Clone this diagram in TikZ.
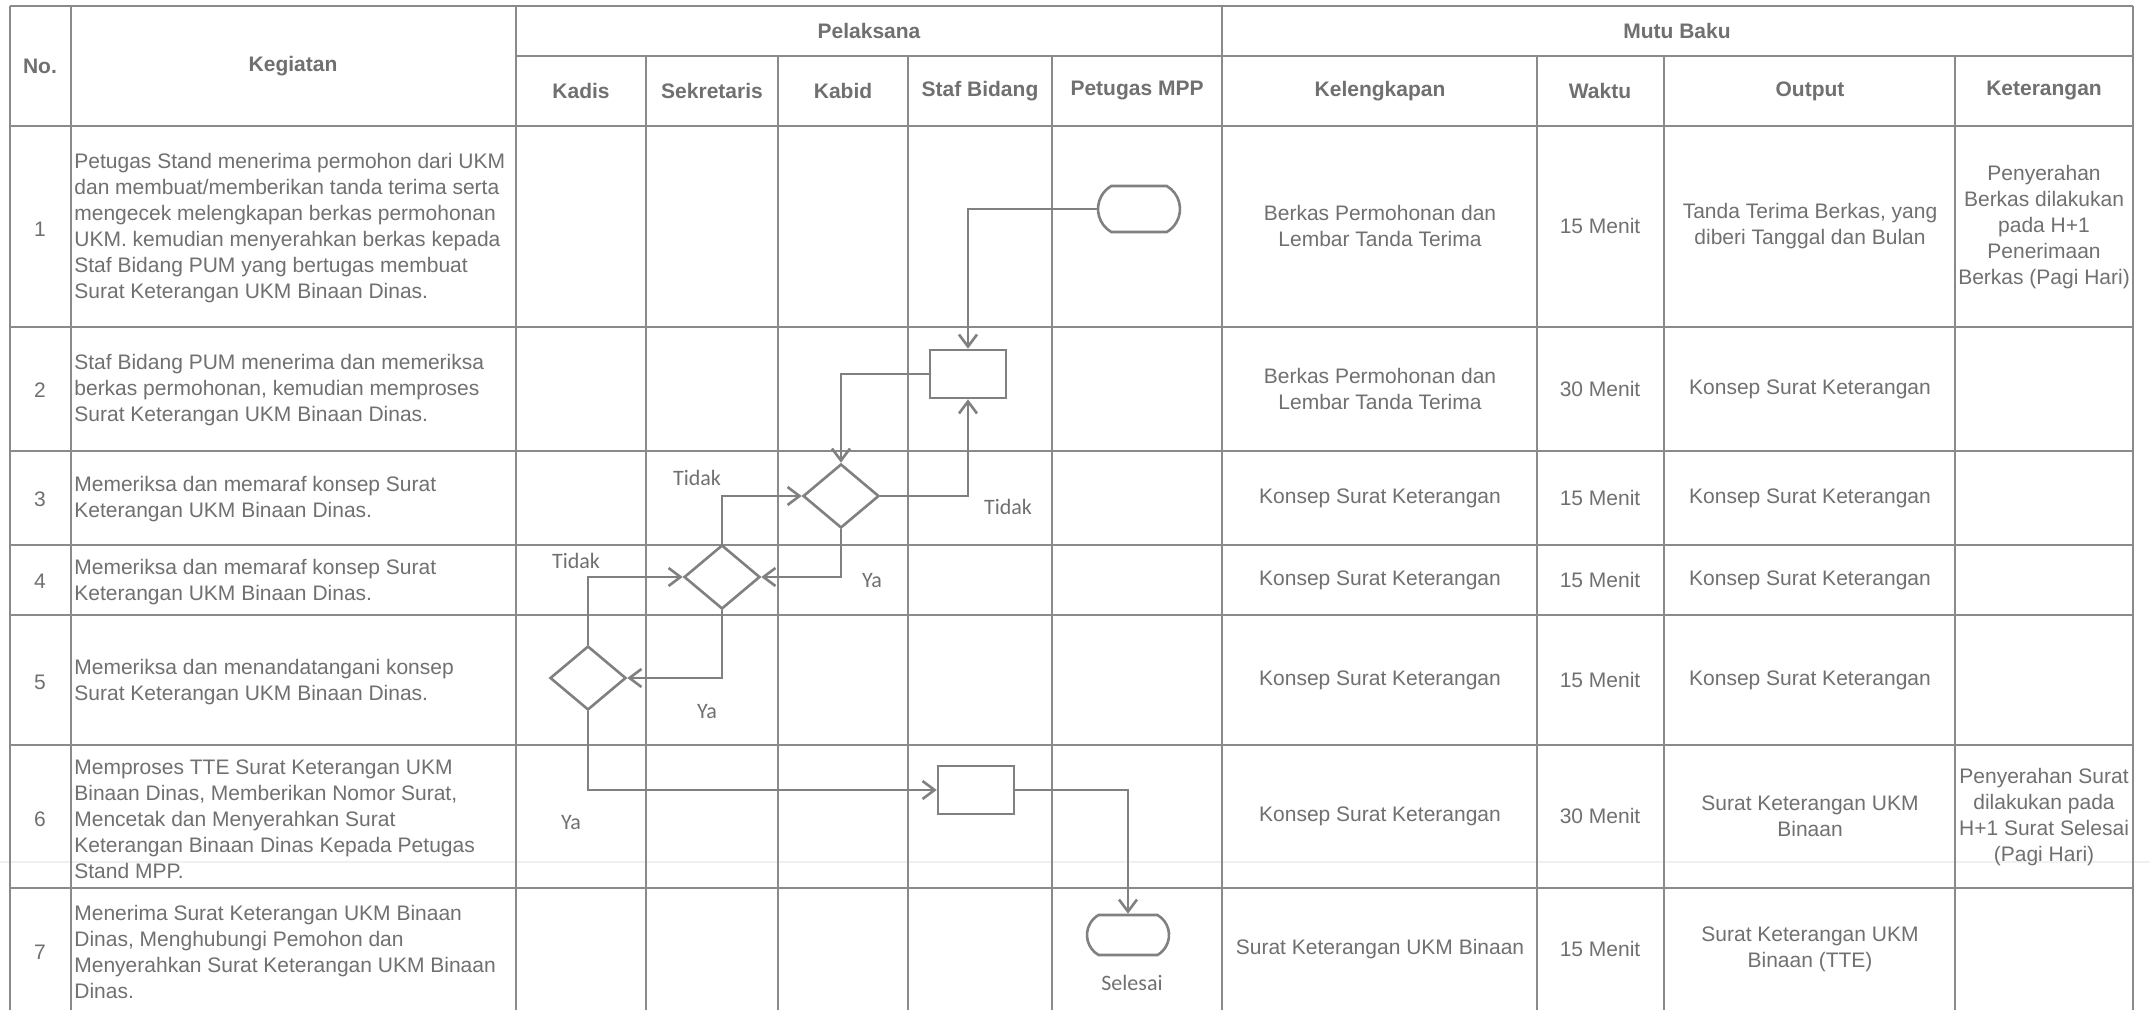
\documentclass[tikz,border=0pt]{standalone}
\usepackage{fontspec}
\setmainfont{Liberation Sans}
\newfontfamily\calibrifont{Carlito}
\usetikzlibrary{shapes.geometric,shapes.misc,arrows.meta}

\definecolor{inkgray}{RGB}{112,112,112}
\definecolor{rulegray}{RGB}{138,138,138}
\definecolor{flowgray}{RGB}{128,128,128}

\tikzset{
    grid line/.style={draw=rulegray, line width=0.8pt},
    head/.style={font=\fontsize{10.5}{13}\selectfont\bfseries, text=inkgray, align=center, inner sep=0pt},
    cell/.style={font=\fontsize{10.5}{13}\selectfont, text=inkgray, align=center, inner sep=0pt},
    task/.style={font=\fontsize{10.5}{13}\selectfont, text=inkgray, align=left, anchor=west, inner sep=0pt},
    flow/.style={draw=flowgray, line width=1.3pt},
    terminal/.style={flow, rounded rectangle, rounded rectangle arc length=120, minimum width=41pt, minimum height=23pt, inner sep=0pt},
    process/.style={flow, rectangle, minimum width=38pt, minimum height=24pt, inner sep=0pt},
    decision/.style={flow, diamond, minimum width=38pt, minimum height=32pt, inner sep=0pt},
    link/.style={flow, -{Straight Barb[length=6pt,width=9pt]}},
    flowlabel/.style={font=\calibrifont\fontsize{11}{13}\selectfont, text=inkgray, inner sep=0pt},
}

\begin{document}
\begin{tikzpicture}[x=0.5pt, y=-0.5pt]
    \useasboundingbox (0,0) rectangle (2150,1010);
    \fill[white] (0,0) rectangle (2150,1010);
    \draw[gray!12, line width=0.6pt] (0,862) -- (2150,862);

    % --- Table grid ---
    \foreach \x in {10,71,516,1222,2133} {
        \draw[grid line] (\x,6) -- (\x,1010);
    }
    \foreach \x in {646,778,908,1052,1537,1664,1955} {
        \draw[grid line] (\x,56) -- (\x,1010);
    }
    \draw[grid line] (10,6) -- (2133,6);
    \draw[grid line] (516,56) -- (2133,56);
    \foreach \y in {126,327,451,545,615,745,888} {
        \draw[grid line] (10,\y) -- (2133,\y);
    }

    % --- Header ---
    \node[head] (hno) at (40,66) {No.};
    \node[head] (hkeg) at (293,66) {Kegiatan};
    \node[head] (hpel) at (869,31) {Pelaksana};
    \node[head] (hmutu) at (1677,31) {Mutu Baku};
    \foreach \name/\x/\txt in {kadis/581/Kadis, sekre/712/Sekretaris, kabid/843/Kabid, staf/980/Staf Bidang, mpp/1137/Petugas MPP, leng/1380/Kelengkapan, waktu/1600/Waktu, out/1810/Output, ket/2044/Keterangan} {
        \node[head] (h\name) at (\x,91) {\txt};
    }

    % --- Kegiatan ---
    \foreach \i/\y in {1/229,2/390,3/499,4/581,5/682,6/819,7/952} {
        \node[cell] (no\i) at (40,\y) {\i};
    }
    \node[task] (keg1) at (74,228) {Petugas Stand menerima permohon dari UKM\\dan membuat/memberikan tanda terima serta\\mengecek melengkapan berkas permohonan\\UKM. kemudian menyerahkan berkas kepada\\Staf Bidang PUM yang bertugas membuat\\Surat Keterangan UKM Binaan Dinas.};
    \node[task] (keg2) at (74,390) {Staf Bidang PUM menerima dan memeriksa\\berkas permohonan, kemudian memproses\\Surat Keterangan UKM Binaan Dinas.};
    \node[task] (keg3) at (74,499) {Memeriksa dan memaraf konsep Surat\\Keterangan UKM Binaan Dinas.};
    \node[task] (keg4) at (74,582) {Memeriksa dan memaraf konsep Surat\\Keterangan UKM Binaan Dinas.};
    \node[task] (keg5) at (74,682) {Memeriksa dan menandatangani konsep\\Surat Keterangan UKM Binaan Dinas.};
    \node[task] (keg6) at (74,819) {Memproses TTE Surat Keterangan UKM\\Binaan Dinas, Memberikan Nomor Surat,\\Mencetak dan Menyerahkan Surat\\Keterangan Binaan Dinas Kepada Petugas\\Stand MPP.};
    \node[task] (keg7) at (74,952) {Menerima Surat Keterangan UKM Binaan\\Dinas, Menghubungi Pemohon dan\\Menyerahkan Surat Keterangan UKM Binaan\\Dinas.};

    % --- Mutu Baku ---
    \node[cell] (leng1) at (1380,226) {Berkas Permohonan dan\\Lembar Tanda Terima};
    \node[cell] (leng2) at (1380,389) {Berkas Permohonan dan\\Lembar Tanda Terima};
    \node[cell] (leng3) at (1380,498) {Konsep Surat Keterangan};
    \node[cell] (leng4) at (1380,580) {Konsep Surat Keterangan};
    \node[cell] (leng5) at (1380,680) {Konsep Surat Keterangan};
    \node[cell] (leng6) at (1380,816) {Konsep Surat Keterangan};
    \node[cell] (leng7) at (1380,949) {Surat Keterangan UKM Binaan};
    \foreach \i/\y/\menit in {1/226/15,2/389/30,3/498/15,4/580/15,5/680/15,6/816/30,7/949/15} {
        \node[cell] (waktu\i) at (1600,\y) {\menit{} Menit};
    }
    \node[cell] (out1) at (1810,226) {Tanda Terima Berkas, yang\\diberi Tanggal dan Bulan};
    \node[cell] (out2) at (1810,389) {Konsep Surat Keterangan};
    \node[cell] (out3) at (1810,498) {Konsep Surat Keterangan};
    \node[cell] (out4) at (1810,580) {Konsep Surat Keterangan};
    \node[cell] (out5) at (1810,680) {Konsep Surat Keterangan};
    \node[cell] (out6) at (1810,816) {Surat Keterangan UKM\\Binaan};
    \node[cell] (out7) at (1810,949) {Surat Keterangan UKM\\Binaan (TTE)};
    \node[cell] (ket1) at (2044,227) {Penyerahan\\Berkas dilakukan\\pada H+1\\Penerimaan\\Berkas (Pagi Hari)};
    \node[cell] (ket6) at (2044,817) {Penyerahan Surat\\dilakukan pada\\H+1 Surat Selesai\\(Pagi Hari)};

    % --- Flowchart ---
    \node[terminal] (mulai) at (1139,209) {};
    \node[process] (proses2) at (968,374) {};
    \node[decision] (cek3) at (841,496) {};
    \node[decision] (cek4) at (722,577) {};
    \node[decision] (cek5) at (588,678) {};
    \node[process] (proses6) at (976,790) {};
    \node[terminal, minimum height=20pt] (akhir) at (1128,935) {};

    \draw[link] (mulai.west) -| (proses2.north);
    \draw[link] (proses2.west) -| (cek3.north);
    \draw[link] (cek3.east) -| (proses2.south);
    \draw[link] (cek4.north) |- (cek3.west);
    \draw[link] (cek3.south) |- (cek4.east);
    \draw[link] (cek5.north) |- (cek4.west);
    \draw[link] (cek4.south) |- (cek5.east);
    \draw[link] (cek5.south) |- (proses6.west);
    \draw[link] (proses6.east) -| (akhir.north);

    \node[flowlabel] (tidak3) at (1008,507) {Tidak};
    \node[flowlabel] (tidak4) at (697,478) {Tidak};
    \node[flowlabel] (ya3) at (872,581) {Ya};
    \node[flowlabel] (tidak5) at (576,561) {Tidak};
    \node[flowlabel] (ya4) at (707,712) {Ya};
    \node[flowlabel] (ya5) at (571,823) {Ya};
    \node[flowlabel] (selesai) at (1132,983) {Selesai};
\end{tikzpicture}
\end{document}
